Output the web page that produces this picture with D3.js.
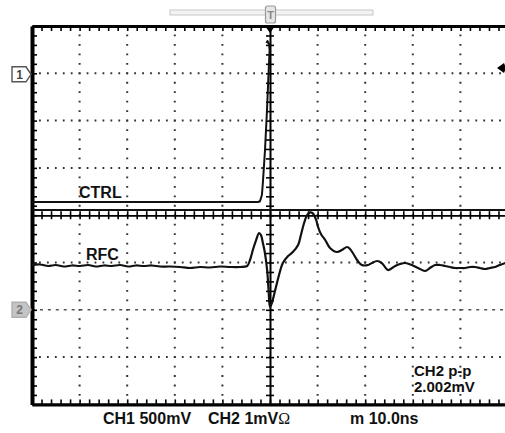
<!DOCTYPE html>
<html><head><meta charset="utf-8">
<script src="https://cdn.jsdelivr.net/npm/d3@7"></script>
<style>
html,body{margin:0;padding:0;background:#fff;}
svg{display:block;}
text{font-family:"Liberation Sans",Arial,sans-serif;font-weight:bold;fill:#111;}
</style></head><body>
<svg id="scope" width="505" height="433"></svg>
<script>
// Time base: 10 divisions at 10 ns/div, trigger at 0 ns
const timeDomain = [-50, 50];
const timeGrid = [-40, -30, -20, -10, 10, 20, 30, 40];
const timeMinorStep = 2;
// Vertical graticule in divisions
const divGrid = [-3, -1, 1, 2, 3];
const divMinorStep = 0.2;

// CH1: 500 mV/div, ground marker 3 div above centre
const ch1VoltsPerDiv = 0.5, ch1OffsetDiv = 3;
// CH2: 1 mV/div, ground marker 2 div below centre
const ch2MvPerDiv = 1, ch2OffsetDiv = -2;

// CTRL (CH1) trace, [ns, V]
const ctrlTrace = [
  [-50, -1.36], [-20, -1.36], [-2.5, -1.36], [-2.1, -1.352], [-1.7, -1.286],
  [-1.5, -1.16], [-1.05, -0.811], [-0.63, -0.388], [-0.32, -0.018],
  [-0.08, 0.246], [-0.21, 0.31], [-0.53, 0.341], [-0.74, 0.32]
];
// Horizontal CH1 level line (V)
const ch1Level = -1.445;

// RFC (CH2) trace, [ns, mV]
const rfcTrace = [
  [-50, 0.947], [-48.3, 0.958], [-46.6, 0.926], [-45, 0.947], [-43.3, 0.915],
  [-41.6, 0.937], [-39.9, 0.926], [-38.2, 0.947], [-36.6, 0.915], [-34.9, 0.937],
  [-33.2, 0.926], [-31.5, 0.947], [-29.8, 0.915], [-28.2, 0.937], [-26.5, 0.926],
  [-24.8, 0.937], [-23.1, 0.915], [-21, 0.915], [-18.9, 0.905], [-16.8, 0.884],
  [-14.7, 0.905], [-12.6, 0.894], [-10.5, 0.915], [-8.4, 0.905], [-6.3, 0.905],
  [-4.8, 0.926], [-4.2, 1.053], [-3.6, 1.264], [-2.9, 1.476], [-2.3, 1.624],
  [-1.9, 1.581], [-1.5, 1.412], [-1.1, 1.222], [-0.6, 0.841], [-0.3, 0.418],
  [0, 0.058], [0.4, 0.144], [1.1, 0.418], [1.9, 0.736], [2.7, 0.989],
  [3.8, 1.137], [4.8, 1.222], [5.9, 1.37], [6.5, 1.581], [7.1, 1.814],
  [7.8, 2.004], [8.4, 2.06], [9, 2.04], [9.7, 1.899], [10.1, 1.751],
  [10.7, 1.602], [11.6, 1.476], [12.6, 1.307], [14.1, 1.222], [15.1, 1.264],
  [16.2, 1.328], [16.8, 1.285], [17.4, 1.201], [18.3, 1.053], [19.3, 0.947],
  [20.6, 0.947], [21.4, 0.989], [22.5, 1.032], [23.5, 0.989], [24.8, 0.841],
  [26.3, 0.926], [27.3, 0.968], [28.4, 0.989], [29.8, 0.947], [31.1, 0.884],
  [32.6, 0.82], [33.6, 0.884], [34.7, 0.947], [35.7, 0.947], [36.8, 0.926],
  [37.8, 0.905], [38.9, 0.884], [39.9, 0.884], [41, 0.884], [42, 0.905],
  [43.1, 0.905], [44.1, 0.884], [45.2, 0.863], [46.2, 0.884], [47.3, 0.905],
  [48.3, 0.947], [50, 1.011]
];

// Readouts
const traceLabels = ["CTRL", "RFC"];
const measureLabels = ["CH2 p-p", "2.002mV"];
const statusLabels = ["CH1 500mV", "CH2 1mV", "Ω", "m 10.0ns"];

(function draw() {
  const svg = d3.select("#scope");
  const left = 32, right = 508, top = 26, bottom = 404.4;

  const x = d3.scaleLinear().domain(timeDomain).range([left, right]);
  const yDiv = d3.scaleLinear().domain([-4, 4]).range([bottom, top]);
  const y1 = d3.scaleLinear()
    .domain([(-4 - ch1OffsetDiv) * ch1VoltsPerDiv, (4 - ch1OffsetDiv) * ch1VoltsPerDiv])
    .range([bottom, top]);
  const y2 = d3.scaleLinear()
    .domain([(-4 - ch2OffsetDiv) * ch2MvPerDiv, (4 - ch2OffsetDiv) * ch2MvPerDiv])
    .range([bottom, top]);

  const divW = (right - left) / 10, divH = (bottom - top) / 8;

  // Dotted graticule
  const grid = svg.append("g").attr("stroke", "#333").attr("stroke-width", 2);
  grid.selectAll("line.v").data(timeGrid).join("line").attr("class", "v")
    .attr("x1", d => x(d)).attr("x2", d => x(d))
    .attr("y1", top).attr("y2", bottom)
    .attr("stroke-dasharray", `1.8,${(divH / 5 - 1.8).toFixed(3)}`)
    .attr("stroke-dashoffset", 0.9);
  grid.selectAll("line.h").data(divGrid).join("line").attr("class", "h")
    .attr("x1", left).attr("x2", right)
    .attr("y1", d => yDiv(d)).attr("y2", d => yDiv(d))
    .attr("stroke-dasharray", `1.8,${(divW / 6 - 1.8).toFixed(3)}`)
    .attr("stroke-dashoffset", 0.9);
  // CH2 ground row drawn with short dashes
  svg.append("line")
    .attr("x1", left).attr("x2", right)
    .attr("y1", yDiv(ch2OffsetDiv)).attr("y2", yDiv(ch2OffsetDiv))
    .attr("stroke", "#555").attr("stroke-width", 1.6)
    .attr("stroke-dasharray", `3,${(divW / 6 - 3).toFixed(3)}`);

  // Frame and centre axes with minor ticks
  const minorT = d3.range(timeDomain[0], timeDomain[1] + 0.01, timeMinorStep);
  const minorD = d3.range(-4, 4.01, divMinorStep);
  function styleAxis(g, w) {
    g.select(".domain").attr("stroke", "#000").attr("stroke-width", w);
    g.selectAll(".tick line").attr("stroke", "#000").attr("stroke-width", 1.6);
  }
  svg.append("g").attr("transform", `translate(0,${top})`)
    .call(d3.axisBottom(x).tickValues(minorT).tickSize(5).tickSizeOuter(0).tickFormat(""))
    .call(g => styleAxis(g, 3.2));
  svg.append("g").attr("transform", `translate(0,${bottom})`)
    .call(d3.axisTop(x).tickValues(minorT).tickSize(5).tickSizeOuter(0).tickFormat(""))
    .call(g => styleAxis(g, 3.2));
  svg.append("g").attr("transform", `translate(${left},0)`)
    .call(d3.axisRight(yDiv).tickValues(minorD).tickSize(5).tickSizeOuter(0).tickFormat(""))
    .call(g => styleAxis(g, 4));
  const cy = yDiv(0), cx = x(0);
  [d3.axisTop, d3.axisBottom].forEach(a => {
    svg.append("g").attr("transform", `translate(0,${cy})`)
      .call(a(x).tickValues(minorT).tickSize(4).tickSizeOuter(0).tickFormat(""))
      .call(g => styleAxis(g, 1.4));
  });
  [d3.axisLeft, d3.axisRight].forEach(a => {
    svg.append("g").attr("transform", `translate(${cx},0)`)
      .call(a(yDiv).tickValues(minorD).tickSize(4).tickSizeOuter(0).tickFormat(""))
      .call(g => styleAxis(g, 1.6));
  });

  // CH1 level line
  svg.append("line")
    .attr("x1", left).attr("x2", right)
    .attr("y1", y1(ch1Level)).attr("y2", y1(ch1Level))
    .attr("stroke", "#111").attr("stroke-width", 1.8);

  // Traces
  const ctrlLine = d3.line().x(d => x(d[0])).y(d => y1(d[1]));
  const rfcLine = d3.line().x(d => x(d[0])).y(d => y2(d[1])).curve(d3.curveCatmullRom.alpha(0.5));
  svg.append("path").datum(ctrlTrace).attr("d", ctrlLine)
    .attr("fill", "none").attr("stroke", "#111").attr("stroke-width", 2)
    .attr("stroke-linejoin", "round");
  svg.append("path").datum(rfcTrace).attr("d", rfcLine)
    .attr("fill", "none").attr("stroke", "#111").attr("stroke-width", 2.2)
    .attr("stroke-linejoin", "round");

  // Memory bar and trigger position markers
  svg.append("rect").attr("x", 170).attr("y", 10).attr("width", 203).attr("height", 5)
    .attr("fill", "#f2f2f2").attr("stroke", "#c8c8c8").attr("stroke-width", 1);
  svg.append("rect").attr("x", 265.5).attr("y", 6).attr("width", 10).attr("height", 17).attr("rx", 2)
    .attr("fill", "#e6e6e6").attr("stroke", "#999").attr("stroke-width", 1.2);
  svg.append("text").attr("x", 270.5).attr("y", 19).attr("text-anchor", "middle")
    .style("font-size", "11px").style("fill", "#888").text("T");
  svg.append("path").attr("d", `M${cx - 5},${top} L${cx + 5},${top} L${cx},${top + 7} Z`).attr("fill", "#000");
  // Trigger level marker on the right edge
  svg.append("path").attr("d", "M497,68 L504,63 L506,68 L504,73 Z").attr("fill", "#000");

  // Channel ground markers
  function chanMarker(yPos, label, fill, stroke, txt) {
    svg.append("path")
      .attr("d", `M12,${yPos - 7.5} L26,${yPos - 7.5} L31,${yPos} L26,${yPos + 7.5} L12,${yPos + 7.5} Z`)
      .attr("fill", fill).attr("stroke", stroke).attr("stroke-width", 1.4);
    svg.append("text").attr("x", 19.5).attr("y", yPos + 4.5).attr("text-anchor", "middle")
      .style("font-size", "12px").style("fill", txt).text(label);
  }
  chanMarker(yDiv(ch1OffsetDiv) + 1, "1", "#fff", "#555", "#444");
  chanMarker(yDiv(ch2OffsetDiv), "2", "#c4c4c4", "#b0b0b0", "#777");

  // Text
  const fs = "16px";
  svg.append("text").attr("x", 79).attr("y", 198).style("font-size", fs).text(traceLabels[0]);
  svg.append("text").attr("x", 86).attr("y", 260).style("font-size", fs).text(traceLabels[1]);
  svg.append("text").attr("x", 414).attr("y", 375.5).style("font-size", "15px").text(measureLabels[0]);
  svg.append("text").attr("x", 414).attr("y", 392).style("font-size", "15px").text(measureLabels[1]);
  svg.append("text").attr("x", 103).attr("y", 424).style("font-size", fs).text(statusLabels[0]);
  const ch2t = svg.append("text").attr("x", 208).attr("y", 424).style("font-size", fs);
  ch2t.append("tspan").text(statusLabels[1]);
  ch2t.append("tspan").style("font-weight", "normal").style("font-family", "'Liberation Serif',serif").text(statusLabels[2]);
  svg.append("text").attr("x", 350).attr("y", 424).style("font-size", fs).text(statusLabels[3]);
})();
</script>
</body></html>
